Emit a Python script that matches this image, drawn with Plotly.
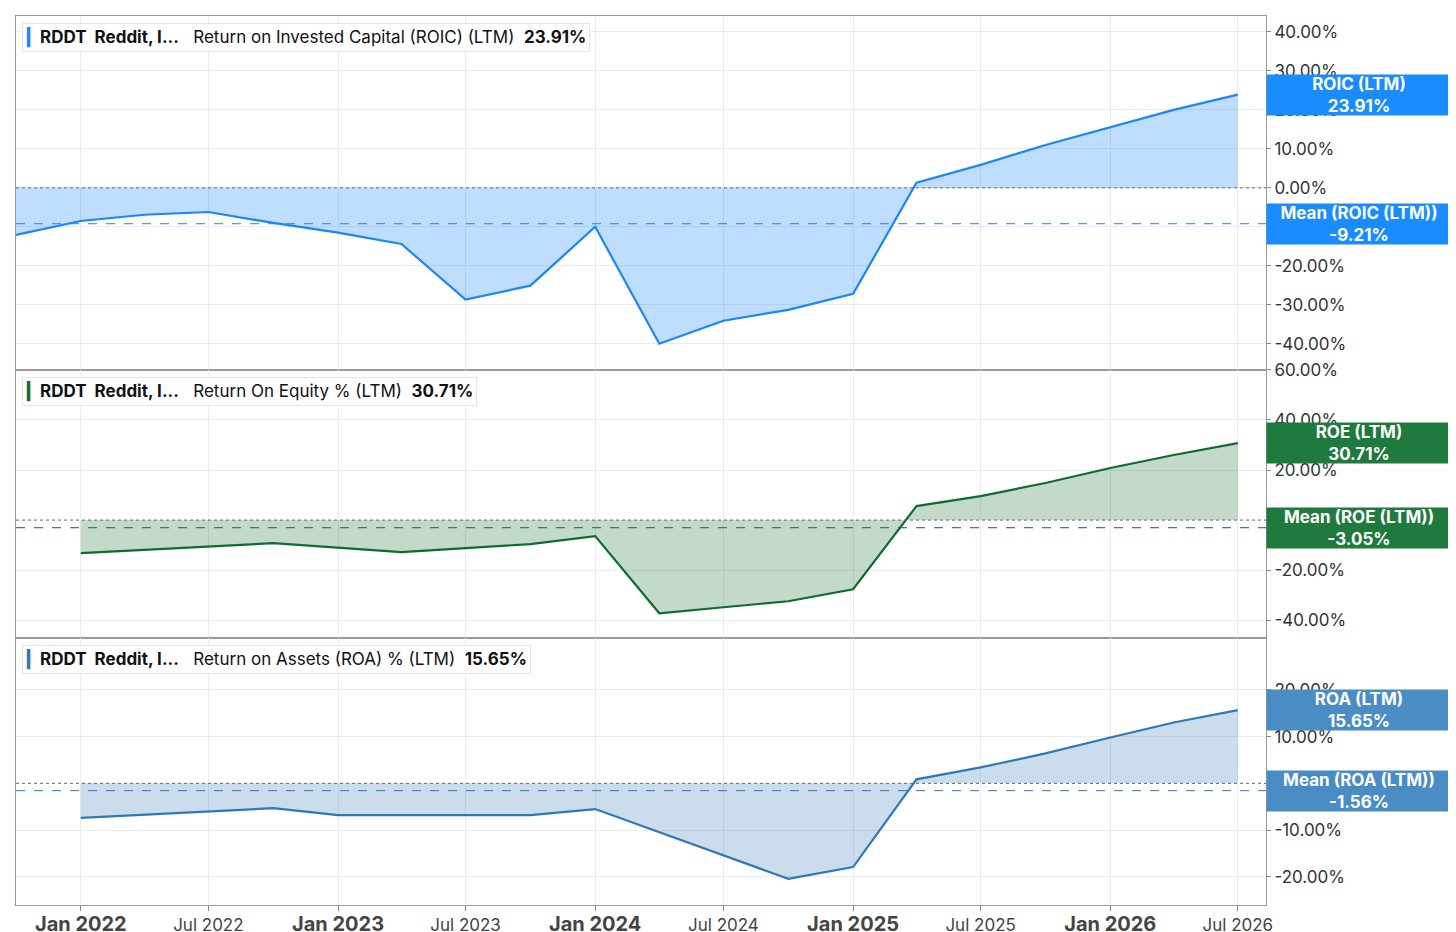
import plotly.graph_objects as go
from plotly.subplots import make_subplots

roic_dates = ["2021-10-01", "2022-01-01", "2022-04-01", "2022-07-01", "2022-10-01", "2023-01-01",
              "2023-04-01", "2023-07-01", "2023-10-01", "2024-01-01", "2024-04-01", "2024-07-01",
              "2024-10-01", "2025-01-01", "2025-04-01", "2025-07-01", "2025-10-01", "2026-01-01",
              "2026-04-01", "2026-07-01"]
roic = [-12.1, -8.5, -6.9, -6.2, -9.0, -11.5, -14.4, -28.7, -25.1, -10.0, -40.0, -34.1,
        -31.3, -27.2, 1.3, 5.9, 11.0, 15.6, 20.0, 23.91]

roe_dates = ["2022-01-01", "2022-07-01", "2022-10-01", "2023-04-01", "2023-10-01", "2024-01-01",
             "2024-04-01", "2024-07-01", "2024-10-01", "2025-01-01", "2025-04-01", "2025-07-01",
             "2025-10-01", "2026-01-01", "2026-04-01", "2026-07-01"]
roe = [-13.2, -10.4, -9.2, -12.8, -9.6, -6.4, -37.2, -34.8, -32.4, -27.6, 5.6, 9.6,
       14.8, 20.8, 26.0, 30.71]

roa_dates = ["2022-01-01", "2022-10-01", "2023-01-01", "2023-10-01", "2024-01-01",
             "2024-10-01", "2025-01-01", "2025-04-01", "2025-07-01", "2025-10-01",
             "2026-01-01", "2026-04-01", "2026-07-01"]
roa = [-7.4, -5.3, -6.8, -6.8, -5.5, -20.4, -17.9, 0.85, 3.4, 6.4, 9.8, 13.0, 15.65]

means = [-9.21, -3.05, -1.56]
names = ["ROIC (LTM)", "ROE (LTM)", "ROA (LTM)"]
titles = ["Return on Invested Capital (ROIC) (LTM)", "Return On Equity % (LTM)",
          "Return on Assets (ROA) % (LTM)"]
line_colors = ["#1a85ff", "#0f6b2e", "#2f78b8"]
fill_colors = ["rgba(26,133,255,0.28)", "rgba(15,107,46,0.25)", "rgba(47,120,184,0.25)"]
box_colors = ["#1a8cff", "#1f7a3d", "#4a8cc4"]

x_ticks = ["2022-01-01", "2022-07-01", "2023-01-01", "2023-07-01", "2024-01-01",
           "2024-07-01", "2025-01-01", "2025-07-01", "2026-01-01", "2026-07-01"]
x_labels = ["Jan 2022", "Jul 2022", "Jan 2023", "Jul 2023", "Jan 2024",
            "Jul 2024", "Jan 2025", "Jul 2025", "Jan 2026", "Jul 2026"]

y_ranges = [[-46.7, 44.1], [-47.2, 60], [-26, 31]]
y_ticks = [[-40, -30, -20, -10, 0, 10, 20, 30, 40], [-40, -20, 20, 40, 60], [-20, -10, 10, 20]]

fig = make_subplots(rows=3, cols=1, shared_xaxes=True, vertical_spacing=0)

series = [(roic_dates, roic), (roe_dates, roe), (roa_dates, roa)]
for i, (d, v) in enumerate(series):
    r = i + 1
    fig.add_trace(go.Scatter(x=d, y=v, mode="lines", fill="tozeroy", fillcolor=fill_colors[i],
                             line=dict(color=line_colors[i], width=2.2), showlegend=False), row=r, col=1)
    fig.add_hline(y=0, line=dict(color="#666", width=1, dash="dot"), row=r, col=1)
    fig.add_hline(y=means[i], line=dict(color=line_colors[i], width=1, dash="dash"), row=r, col=1)

domains = [[0.602, 1.0], [0.300, 0.602], [0.0, 0.300]]
labels = [("<span style='font-size:20px'><b>%s</b></span>" % t) if t.startswith("Jan") else t for t in x_labels]
for i in range(3):
    ax = "yaxis" if i == 0 else "yaxis%d" % (i + 1)
    xa = "xaxis" if i == 0 else "xaxis%d" % (i + 1)
    fig.layout[ax].update(domain=domains[i], range=y_ranges[i], side="right", tickvals=y_ticks[i],
                          ticktext=["%.2f%%" % t for t in y_ticks[i]], showgrid=True, gridcolor="#ebebeb",
                          zeroline=False, ticks="outside", ticklen=4, tickcolor="#888",
                          showline=True, linecolor="#999", mirror=True, automargin=False,
                          tickfont=dict(size=17, color="#333"))
    fig.layout[xa].update(range=["2021-10-01", "2026-08-10"], tickvals=x_ticks, ticktext=labels,
                          showgrid=True, gridcolor="#ebebeb", showline=True, linecolor="#999",
                          mirror=True, ticks="outside", ticklen=5, tickcolor="#888", automargin=False,
                          tickfont=dict(size=17, color="#444"), showticklabels=(i == 2))

    yref = "y" if i == 0 else "y%d" % (i + 1)
    last = series[i][1][-1]
    fig.add_annotation(xref="paper", yref=yref, x=1.0, y=last, xanchor="left", yanchor="middle",
                       text="<b>%s<br>%.2f%%</b>" % (names[i], last), showarrow=False,
                       bgcolor=box_colors[i], font=dict(color="white", size=17), width=182, height=38,
                       align="center")
    fig.add_annotation(xref="paper", yref=yref, x=1.0, y=means[i], xanchor="left", yanchor="middle",
                       text="<b>Mean (%s)<br>%.2f%%</b>" % (names[i], means[i]), showarrow=False,
                       bgcolor=box_colors[i], font=dict(color="white", size=17), width=182, height=38,
                       align="center")
    fig.add_annotation(xref="paper", yref="paper", x=0.005, y=domains[i][1] - 0.008,
                       xanchor="left", yanchor="top", showarrow=False,
                       text="<span style='color:%s'>▎</span><b>RDDT  Reddit, I...</b>   %s  <b>%.2f%%</b>"
                            % (line_colors[i], titles[i], series[i][1][-1]),
                       font=dict(size=17, color="#111"), bgcolor="white", bordercolor="#e4e4e4",
                       borderwidth=1, borderpad=3)

fig.update_layout(width=1456, height=932, margin=dict(l=8, r=198, t=8, b=35, autoexpand=False),
                  plot_bgcolor="white", paper_bgcolor="white",
                  font=dict(family="Inter, Roboto, sans-serif"))
fig.write_html("out.html")
